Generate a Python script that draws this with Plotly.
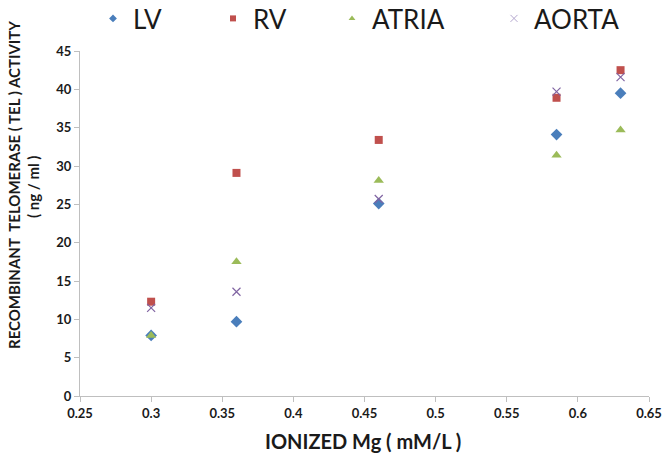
import plotly.graph_objects as go

x_vals = [0.30, 0.36, 0.46, 0.585, 0.63]
lv = [7.9, 9.7, 25.1, 34.1, 39.5]
rv = [12.3, 29.1, 33.4, 38.9, 42.5]
atria = [7.9, 17.5, 28.1, 31.4, 34.7]
aorta = [11.5, 13.6, 25.7, 39.7, 41.6]

series = [
    ("LV", lv, "diamond", "#4A7EBB", 9),
    ("RV", rv, "square", "#C0504D", 8),
    ("ATRIA", atria, "triangle-up", "#9BBB59", 9),
    ("AORTA", aorta, "x-thin", "#8064A2", 8),
]

W, H = 666, 459
L, T, R, B = 80, 51, 17, 63
pw = W - L - R
ph = H - T - B

def px_x(px):
    return (px - L) / pw

def px_y(py):
    return (H - B - py) / ph

legend_px = [93, 213, 332, 494]

fig = go.Figure()
for i, (name, vals, sym, col, sz) in enumerate(series):
    marker = dict(symbol=sym, color=col, size=sz)
    if sym == "x-thin":
        marker["line"] = dict(color=col, width=1.2)
    fig.add_trace(go.Scatter(
        x=x_vals, y=vals, mode="markers", name=name, marker=marker,
        showlegend=False,
    ))

# legend entries with the smaller legend symbols of the original
for i, (name, vals, sym, col, sz) in enumerate(series):
    lmarker = dict(symbol=sym, color=col, size=6 if sym != "x-thin" else 7)
    if sym == "x-thin":
        lmarker["color"] = "#B4A7CF"
        lmarker["line"] = dict(color="#B4A7CF", width=1)
    lg = "legend" if i == 0 else f"legend{i+1}"
    fig.add_trace(go.Scatter(
        x=[None], y=[None], mode="markers", name=name, marker=lmarker,
        legend=lg, showlegend=True,
    ))

legend_font = dict(family="Lato", size=26, color="#1a1a1a")
for i, lx in enumerate(legend_px):
    key = "legend" if i == 0 else f"legend{i+1}"
    fig.update_layout(**{key: dict(
        x=px_x(lx), y=px_y(-5), xanchor="left", yanchor="top",
        orientation="h", font=legend_font, bgcolor="rgba(0,0,0,0)",
        itemsizing="trace",
    )})

fig.update_xaxes(
    range=[0.25, 0.65], dtick=0.05, tick0=0.25,
    showgrid=False, zeroline=False, showline=True, linecolor="#BFBFBF",
    ticks="outside", ticklen=5, tickcolor="#BFBFBF",
    tickfont=dict(family="Lato", size=13, color="#1a1a1a", weight="bold"),
)
fig.update_yaxes(
    range=[0, 45], dtick=5,
    showgrid=False, zeroline=False, showline=True, linecolor="#BFBFBF",
    ticks="outside", ticklen=5, tickcolor="#BFBFBF",
    tickfont=dict(family="Lato", size=13, color="#1a1a1a", weight="bold"),
)

fig.add_annotation(
    text="<b>RECOMBINANT  TELOMERASE ( TEL ) ACTIVITY</b>",
    xref="paper", yref="paper", x=px_x(14), y=px_y(185),
    xanchor="center", yanchor="middle", textangle=-90, showarrow=False,
    font=dict(family="Lato", size=15, color="#1a1a1a"),
)
fig.add_annotation(
    text="<b>( ng / ml )</b>",
    xref="paper", yref="paper", x=px_x(33), y=px_y(187),
    xanchor="center", yanchor="middle", textangle=-90, showarrow=False,
    font=dict(family="Lato", size=15, color="#1a1a1a"),
)
fig.add_annotation(
    text="<b>IONIZED Mg ( mM/L )</b>",
    xref="paper", yref="paper", x=px_x(363), y=px_y(441),
    xanchor="center", yanchor="middle", showarrow=False,
    font=dict(family="Lato", size=20, color="#1a1a1a"),
)

fig.update_layout(
    width=W, height=H,
    margin=dict(l=L, r=R, t=T, b=B, autoexpand=False),
    plot_bgcolor="white", paper_bgcolor="white",
    showlegend=True,
)

fig.write_html(
    "out.html",
    config={"displayModeBar": False},
    post_script="document.body.style.margin='0px';",
)
